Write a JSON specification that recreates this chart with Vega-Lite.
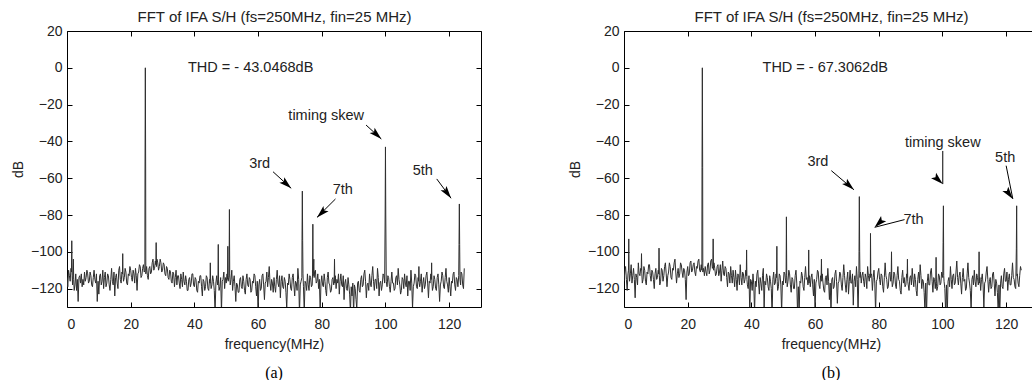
{
  "$schema": "https://vega.github.io/schema/vega-lite/v6.json",
  "background": "white",
  "padding": {"left": 10, "top": 9, "right": 0, "bottom": 0},
  "spacing": 143,
  "bounds": "flush",
  "config": {
    "view": {"stroke": "black", "strokeWidth": 1},
    "font": "Liberation Sans",
    "axis": {"domain": false, "grid": false, "ticks": true, "tickSize": -5, "tickColor": "black", "tickWidth": 1,
      "labelFont": "Liberation Sans", "labelFontSize": 14, "labelColor": "#222", "labelPadding": 10,
      "titleFont": "Liberation Sans", "titleFontSize": 14, "titleFontWeight": "normal", "titleColor": "#222"},
    "axisLeft": {"titlePadding": 5},
    "axisBottom": {"titlePadding": 6, "labelPadding": 15},
    "axisTop": {"titlePadding": 6, "titleFontSize": 15},
    "title": {"font": "Liberation Serif", "fontSize": 16, "fontWeight": "normal", "color": "black"}
  },
  "datasets": {
    "specA": [
      {"f":0,"db":-114},{"f":0.25,"db":-119},{"f":0.5,"db":-110},{"f":0.75,"db":-113},{"f":1,"db":-116},{"f":1.25,"db":-109},{"f":1.4,"db":-111},{"f":1.5,"db":-94},{"f":1.6,"db":-113},{"f":1.75,"db":-118},
      {"f":2,"db":-104},{"f":2.1,"db":-115},{"f":2.25,"db":-121},{"f":2.5,"db":-118},{"f":2.75,"db":-112},{"f":3,"db":-121},{"f":3.25,"db":-115},{"f":3.5,"db":-127},{"f":3.75,"db":-114},{"f":4,"db":-113},{"f":4.25,"db":-117},{"f":4.5,"db":-112},{"f":4.75,"db":-119},
      {"f":5,"db":-115},{"f":5.25,"db":-118},{"f":5.5,"db":-111},{"f":5.75,"db":-116},{"f":6,"db":-114},{"f":6.25,"db":-110},{"f":6.5,"db":-112},{"f":6.75,"db":-117},{"f":7,"db":-116},{"f":7.25,"db":-111},{"f":7.5,"db":-113},{"f":7.75,"db":-118},
      {"f":8,"db":-119},{"f":8.25,"db":-114},{"f":8.5,"db":-110},{"f":8.75,"db":-115},{"f":9,"db":-117},{"f":9.25,"db":-112},{"f":9.5,"db":-127},{"f":9.75,"db":-116},
      {"f":10,"db":-123},{"f":10.25,"db":-113},{"f":10.5,"db":-112},{"f":10.75,"db":-118},{"f":11,"db":-116},{"f":11.25,"db":-110},{"f":11.5,"db":-120},{"f":11.75,"db":-114},{"f":12,"db":-111},{"f":12.25,"db":-119},{"f":12.5,"db":-117},{"f":12.75,"db":-112},
      {"f":13,"db":-113},{"f":13.25,"db":-118},{"f":13.5,"db":-121},{"f":13.75,"db":-115},{"f":14,"db":-109},{"f":14.25,"db":-116},{"f":14.5,"db":-118},{"f":14.75,"db":-111},
      {"f":15,"db":-124},{"f":15.25,"db":-114},{"f":15.5,"db":-112},{"f":15.75,"db":-117},{"f":16,"db":-120},{"f":16.25,"db":-110},{"f":16.5,"db":-108},{"f":16.75,"db":-115},{"f":17,"db":-117},{"f":17.25,"db":-111},{"f":17.4,"db":-112},{"f":17.5,"db":-101},{"f":17.6,"db":-113},{"f":17.75,"db":-116},
      {"f":18,"db":-114},{"f":18.25,"db":-109},{"f":18.5,"db":-111},{"f":18.75,"db":-117},{"f":19,"db":-118},{"f":19.25,"db":-112},{"f":19.5,"db":-113},{"f":19.75,"db":-108},
      {"f":20,"db":-110},{"f":20.25,"db":-114},{"f":20.5,"db":-116},{"f":20.75,"db":-110},{"f":21,"db":-112},{"f":21.25,"db":-117},{"f":21.5,"db":-109},{"f":21.75,"db":-113},{"f":22,"db":-121},{"f":22.25,"db":-112},{"f":22.5,"db":-111},{"f":22.75,"db":-107},
      {"f":23,"db":-108},{"f":23.25,"db":-114},{"f":23.5,"db":-113},{"f":23.75,"db":-109},{"f":24,"db":-107},{"f":24.25,"db":-111},{"f":24.45,"db":-110},{"f":24.5,"db":-55},{"f":24.6,"db":0},{"f":24.7,"db":-55},{"f":24.75,"db":-112},
      {"f":25,"db":-108},{"f":25.25,"db":-113},{"f":25.5,"db":-115},{"f":25.75,"db":-109},{"f":26,"db":-108},{"f":26.25,"db":-112},{"f":26.5,"db":-111},{"f":26.75,"db":-106},{"f":27,"db":-104},{"f":27.25,"db":-110},{"f":27.5,"db":-109},{"f":27.75,"db":-105},
      {"f":27.9,"db":-107},{"f":28,"db":-95},{"f":28.1,"db":-108},{"f":28.25,"db":-104},{"f":28.5,"db":-106},{"f":28.75,"db":-110},{"f":29,"db":-108},{"f":29.25,"db":-104},{"f":29.5,"db":-106},{"f":29.75,"db":-111},
      {"f":30,"db":-110},{"f":30.25,"db":-106},{"f":30.5,"db":-107},{"f":30.75,"db":-112},{"f":31,"db":-113},{"f":31.25,"db":-108},{"f":31.5,"db":-109},{"f":31.75,"db":-114},{"f":32,"db":-115},{"f":32.25,"db":-110},{"f":32.5,"db":-111},{"f":32.75,"db":-116},
      {"f":33,"db":-117},{"f":33.25,"db":-111},{"f":33.5,"db":-112},{"f":33.75,"db":-119},{"f":34,"db":-114},{"f":34.25,"db":-110},{"f":34.5,"db":-118},{"f":34.75,"db":-113},
      {"f":35,"db":-113},{"f":35.25,"db":-117},{"f":35.5,"db":-120},{"f":35.75,"db":-112},{"f":36,"db":-115},{"f":36.25,"db":-119},{"f":36.5,"db":-111},{"f":36.75,"db":-116},{"f":37,"db":-118},{"f":37.25,"db":-113},{"f":37.5,"db":-116},{"f":37.75,"db":-121},
      {"f":38,"db":-121},{"f":38.25,"db":-115},{"f":38.5,"db":-114},{"f":38.75,"db":-119},{"f":39,"db":-117},{"f":39.25,"db":-112},{"f":39.5,"db":-112},{"f":39.75,"db":-118},
      {"f":40,"db":-119},{"f":40.25,"db":-114},{"f":40.5,"db":-115},{"f":40.75,"db":-121},{"f":41,"db":-122},{"f":41.25,"db":-116},{"f":41.5,"db":-117},{"f":41.75,"db":-113},{"f":42,"db":-113},{"f":42.25,"db":-119},{"f":42.5,"db":-124},{"f":42.75,"db":-115},
      {"f":43,"db":-116},{"f":43.25,"db":-121},{"f":43.5,"db":-119},{"f":43.75,"db":-113},{"f":44,"db":-114},{"f":44.25,"db":-120},{"f":44.5,"db":-121},{"f":44.75,"db":-115},
      {"f":44.9,"db":-117},{"f":45,"db":-106},{"f":45.1,"db":-116},{"f":45.25,"db":-120},{"f":45.5,"db":-118},{"f":45.75,"db":-113},{"f":46,"db":-116},{"f":46.25,"db":-121},{"f":46.5,"db":-133},{"f":46.75,"db":-117},{"f":47,"db":-113},{"f":47.25,"db":-118},
      {"f":47.4,"db":-115},{"f":47.5,"db":-96},{"f":47.6,"db":-117},{"f":47.75,"db":-121},{"f":48,"db":-119},{"f":48.25,"db":-114},{"f":48.5,"db":-133},{"f":48.75,"db":-116},{"f":49,"db":-115},{"f":49.25,"db":-111},{"f":49.5,"db":-120},{"f":49.75,"db":-114},
      {"f":50,"db":-117},{"f":50.25,"db":-112},{"f":50.4,"db":-115},{"f":50.5,"db":-97},{"f":50.6,"db":-116},{"f":50.8,"db":-114},{"f":50.9,"db":-113},{"f":51,"db":-77},{"f":51.1,"db":-112},{"f":51.25,"db":-118},{"f":51.5,"db":-115},{"f":51.75,"db":-110},
      {"f":52,"db":-121},{"f":52.25,"db":-116},{"f":52.5,"db":-113},{"f":52.75,"db":-119},{"f":53,"db":-127},{"f":53.25,"db":-117},{"f":53.5,"db":-118},{"f":53.75,"db":-122},{"f":54,"db":-122},{"f":54.25,"db":-115},{"f":54.5,"db":-114},{"f":54.75,"db":-119},
      {"f":55,"db":-120},{"f":55.25,"db":-113},{"f":55.5,"db":-116},{"f":55.75,"db":-121},{"f":56,"db":-123},{"f":56.25,"db":-115},{"f":56.5,"db":-112},{"f":56.75,"db":-118},{"f":57,"db":-119},{"f":57.25,"db":-114},{"f":57.5,"db":-115},{"f":57.75,"db":-122},
      {"f":58,"db":-121},{"f":58.25,"db":-116},{"f":58.5,"db":-117},{"f":58.75,"db":-112},{"f":59,"db":-113},{"f":59.25,"db":-119},{"f":59.5,"db":-124},{"f":59.75,"db":-116},
      {"f":60,"db":-134},{"f":60.25,"db":-118},{"f":60.5,"db":-115},{"f":60.75,"db":-121},{"f":61,"db":-120},{"f":61.25,"db":-113},{"f":61.5,"db":-112},{"f":61.75,"db":-118},{"f":62,"db":-126},{"f":62.25,"db":-117},{"f":62.5,"db":-116},{"f":62.75,"db":-111},
      {"f":63,"db":-119},{"f":63.25,"db":-114},{"f":63.5,"db":-108},{"f":63.75,"db":-117},{"f":64,"db":-121},{"f":64.25,"db":-115},{"f":64.5,"db":-117},{"f":64.75,"db":-122},
      {"f":65,"db":-114},{"f":65.25,"db":-119},{"f":65.5,"db":-122},{"f":65.75,"db":-115},{"f":66,"db":-110},{"f":66.25,"db":-117},{"f":66.5,"db":-119},{"f":66.75,"db":-113},{"f":67,"db":-125},{"f":67.25,"db":-116},{"f":67.5,"db":-113},{"f":67.75,"db":-119},
      {"f":68,"db":-120},{"f":68.25,"db":-114},{"f":68.5,"db":-116},{"f":68.75,"db":-122},{"f":69,"db":-131},{"f":69.25,"db":-117},{"f":69.5,"db":-118},{"f":69.75,"db":-112},
      {"f":70,"db":-115},{"f":70.25,"db":-120},{"f":70.5,"db":-121},{"f":70.75,"db":-114},{"f":71,"db":-112},{"f":71.25,"db":-118},{"f":71.5,"db":-124},{"f":71.75,"db":-116},{"f":72,"db":-117},{"f":72.25,"db":-121},{"f":72.5,"db":-109},{"f":72.75,"db":-115},
      {"f":73,"db":-134},{"f":73.25,"db":-118},{"f":73.5,"db":-116},{"f":73.75,"db":-114},{"f":73.8,"db":-93},{"f":73.9,"db":-67},{"f":74,"db":-94},{"f":74.1,"db":-112},{"f":74.25,"db":-119},{"f":74.5,"db":-133},{"f":74.75,"db":-116},
      {"f":75,"db":-117},{"f":75.25,"db":-121},{"f":75.5,"db":-112},{"f":75.75,"db":-118},{"f":76,"db":-121},{"f":76.25,"db":-113},{"f":76.5,"db":-114},{"f":76.75,"db":-119},{"f":77,"db":-118},{"f":77.1,"db":-112},{"f":77.2,"db":-85},{"f":77.3,"db":-113},{"f":77.5,"db":-104},{"f":77.6,"db":-114},{"f":77.75,"db":-111},
      {"f":78,"db":-110},{"f":78.25,"db":-117},{"f":78.5,"db":-116},{"f":78.75,"db":-112},{"f":79,"db":-120},{"f":79.25,"db":-115},{"f":79.5,"db":-133},{"f":79.75,"db":-117},
      {"f":80,"db":-113},{"f":80.25,"db":-118},{"f":80.5,"db":-119},{"f":80.75,"db":-112},{"f":81,"db":-116},{"f":81.25,"db":-121},{"f":81.5,"db":-124},{"f":81.75,"db":-114},{"f":82,"db":-111},{"f":82.25,"db":-117},{"f":82.5,"db":-118},{"f":82.75,"db":-122},
      {"f":83,"db":-121},{"f":83.25,"db":-115},{"f":83.5,"db":-114},{"f":83.75,"db":-118},{"f":83.9,"db":-116},{"f":84,"db":-104},{"f":84.1,"db":-117},{"f":84.25,"db":-113},{"f":84.5,"db":-120},{"f":84.75,"db":-115},
      {"f":85,"db":-117},{"f":85.25,"db":-112},{"f":85.5,"db":-123},{"f":85.75,"db":-116},{"f":86,"db":-112},{"f":86.25,"db":-118},{"f":86.5,"db":-119},{"f":86.75,"db":-113},{"f":87,"db":-126},{"f":87.25,"db":-117},{"f":87.5,"db":-115},{"f":87.75,"db":-120},
      {"f":88,"db":-121},{"f":88.25,"db":-114},{"f":88.5,"db":-118},{"f":88.75,"db":-123},{"f":89,"db":-133},{"f":89.25,"db":-119},{"f":89.5,"db":-124},{"f":89.75,"db":-117},
      {"f":90,"db":-134},{"f":90.25,"db":-118},{"f":90.5,"db":-120},{"f":90.75,"db":-126},{"f":91,"db":-131},{"f":91.25,"db":-117},{"f":91.5,"db":-116},{"f":91.75,"db":-121},{"f":92,"db":-122},{"f":92.25,"db":-115},{"f":92.5,"db":-113},{"f":92.75,"db":-119},
      {"f":93,"db":-118},{"f":93.25,"db":-112},{"f":93.5,"db":-110},{"f":93.75,"db":-116},{"f":94,"db":-125},{"f":94.25,"db":-118},{"f":94.5,"db":-117},{"f":94.75,"db":-121},
      {"f":95,"db":-112},{"f":95.25,"db":-117},{"f":95.5,"db":-119},{"f":95.75,"db":-113},{"f":96,"db":-108},{"f":96.25,"db":-116},{"f":96.5,"db":-121},{"f":96.75,"db":-115},{"f":97,"db":-115},{"f":97.25,"db":-120},{"f":97.5,"db":-109},{"f":97.75,"db":-114},
      {"f":98,"db":-124},{"f":98.25,"db":-117},{"f":98.5,"db":-116},{"f":98.75,"db":-121},{"f":99,"db":-118},{"f":99.25,"db":-112},{"f":99.5,"db":-113},{"f":99.75,"db":-117},
      {"f":99.9,"db":-80},{"f":100,"db":-43},{"f":100.1,"db":-80},{"f":100.25,"db":-116},{"f":100.5,"db":-119},{"f":100.75,"db":-113},{"f":101,"db":-114},{"f":101.25,"db":-119},{"f":101.5,"db":-122},{"f":101.75,"db":-116},
      {"f":102,"db":-111},{"f":102.25,"db":-117},{"f":102.5,"db":-117},{"f":102.75,"db":-121},{"f":103,"db":-120},{"f":103.25,"db":-114},{"f":103.5,"db":-113},{"f":103.75,"db":-118},{"f":104,"db":-109},{"f":104.25,"db":-115},{"f":104.5,"db":-118},{"f":104.75,"db":-123},
      {"f":105,"db":-121},{"f":105.25,"db":-114},{"f":105.5,"db":-115},{"f":105.75,"db":-120},{"f":106,"db":-112},{"f":106.25,"db":-117},{"f":106.5,"db":-119},{"f":106.75,"db":-113},{"f":107,"db":-124},{"f":107.25,"db":-116},{"f":107.5,"db":-116},{"f":107.75,"db":-121},
      {"f":108,"db":-110},{"f":108.25,"db":-117},{"f":108.5,"db":-131},{"f":108.75,"db":-119},{"f":109,"db":-117},{"f":109.25,"db":-112},{"f":109.5,"db":-113},{"f":109.75,"db":-119},
      {"f":110,"db":-120},{"f":110.25,"db":-114},{"f":110.4,"db":-116},{"f":110.5,"db":-108},{"f":110.6,"db":-117},{"f":110.75,"db":-119},{"f":111,"db":-116},{"f":111.25,"db":-112},{"f":111.5,"db":-122},{"f":111.75,"db":-117},
      {"f":112,"db":-114},{"f":112.25,"db":-120},{"f":112.5,"db":-118},{"f":112.75,"db":-113},{"f":113,"db":-111},{"f":113.25,"db":-117},{"f":113.5,"db":-125},{"f":113.75,"db":-116},{"f":114,"db":-117},{"f":114.25,"db":-112},{"f":114.4,"db":-115},{"f":114.5,"db":-106},{"f":114.6,"db":-117},{"f":114.75,"db":-121},
      {"f":115,"db":-119},{"f":115.25,"db":-113},{"f":115.5,"db":-115},{"f":115.75,"db":-120},{"f":116,"db":-121},{"f":116.25,"db":-114},{"f":116.5,"db":-112},{"f":116.75,"db":-118},{"f":117,"db":-127},{"f":117.25,"db":-118},{"f":117.5,"db":-116},{"f":117.75,"db":-111},
      {"f":118,"db":-113},{"f":118.25,"db":-119},{"f":118.5,"db":-120},{"f":118.75,"db":-114},{"f":119,"db":-109},{"f":119.25,"db":-116},{"f":119.5,"db":-118},{"f":119.75,"db":-122},
      {"f":120,"db":-114},{"f":120.25,"db":-119},{"f":120.5,"db":-124},{"f":120.75,"db":-116},{"f":121,"db":-117},{"f":121.25,"db":-112},{"f":121.5,"db":-111},{"f":121.75,"db":-118},{"f":122,"db":-121},{"f":122.25,"db":-114},{"f":122.5,"db":-115},{"f":122.75,"db":-119},
      {"f":123,"db":-113},{"f":123.1,"db":-96},{"f":123.2,"db":-74},{"f":123.3,"db":-96},{"f":123.4,"db":-115},{"f":123.6,"db":-118},{"f":123.75,"db":-111},{"f":124,"db":-112},{"f":124.25,"db":-118},{"f":124.5,"db":-120},{"f":124.75,"db":-109}
    ],
    "specB": [
      {"f":0,"db":-116},{"f":0.25,"db":-111},{"f":0.5,"db":-108},{"f":0.75,"db":-115},{"f":1,"db":-121},{"f":1.25,"db":-112},{"f":1.4,"db":-110},{"f":1.5,"db":-93},{"f":1.6,"db":-111},{"f":1.75,"db":-116},
      {"f":2,"db":-112},{"f":2.25,"db":-107},{"f":2.5,"db":-117},{"f":2.75,"db":-113},{"f":3,"db":-109},{"f":3.25,"db":-115},{"f":3.5,"db":-125},{"f":3.75,"db":-112},{"f":4,"db":-114},{"f":4.25,"db":-118},{"f":4.5,"db":-106},{"f":4.75,"db":-112},
      {"f":5,"db":-113},{"f":5.25,"db":-109},{"f":5.4,"db":-110},{"f":5.5,"db":-101},{"f":5.6,"db":-112},{"f":5.75,"db":-117},{"f":6,"db":-115},{"f":6.25,"db":-108},{"f":6.5,"db":-110},{"f":6.75,"db":-116},{"f":7,"db":-118},{"f":7.25,"db":-111},{"f":7.5,"db":-112},{"f":7.75,"db":-107},
      {"f":8,"db":-107},{"f":8.25,"db":-113},{"f":8.5,"db":-116},{"f":8.75,"db":-110},{"f":9,"db":-111},{"f":9.25,"db":-115},{"f":9.5,"db":-120},{"f":9.75,"db":-112},
      {"f":10,"db":-109},{"f":10.25,"db":-115},{"f":10.5,"db":-114},{"f":10.75,"db":-110},{"f":10.9,"db":-112},{"f":11,"db":-98},{"f":11.1,"db":-113},{"f":11.25,"db":-118},{"f":11.5,"db":-116},{"f":11.75,"db":-109},
      {"f":12,"db":-110},{"f":12.25,"db":-116},{"f":12.5,"db":-113},{"f":12.75,"db":-108},{"f":13,"db":-106},{"f":13.25,"db":-112},{"f":13.5,"db":-119},{"f":13.75,"db":-113},{"f":14,"db":-111},{"f":14.25,"db":-106},{"f":14.5,"db":-108},{"f":14.75,"db":-114},
      {"f":15,"db":-115},{"f":15.25,"db":-109},{"f":15.5,"db":-110},{"f":15.75,"db":-106},{"f":16,"db":-104},{"f":16.25,"db":-111},{"f":16.5,"db":-117},{"f":16.75,"db":-112},{"f":17,"db":-109},{"f":17.25,"db":-114},{"f":17.5,"db":-112},{"f":17.75,"db":-106},
      {"f":18,"db":-107},{"f":18.25,"db":-111},{"f":18.5,"db":-114},{"f":18.75,"db":-109},{"f":19,"db":-110},{"f":19.25,"db":-115},{"f":19.5,"db":-126},{"f":19.75,"db":-111},
      {"f":20,"db":-108},{"f":20.25,"db":-113},{"f":20.5,"db":-112},{"f":20.75,"db":-106},{"f":21,"db":-105},{"f":21.25,"db":-111},{"f":21.5,"db":-110},{"f":21.75,"db":-107},{"f":22,"db":-106},{"f":22.25,"db":-111},{"f":22.5,"db":-113},{"f":22.75,"db":-108},
      {"f":23,"db":-109},{"f":23.25,"db":-105},{"f":23.5,"db":-104},{"f":23.75,"db":-110},{"f":24,"db":-111},{"f":24.25,"db":-107},{"f":24.45,"db":-110},{"f":24.5,"db":-54},{"f":24.6,"db":0},{"f":24.7,"db":-54},{"f":24.75,"db":-111},
      {"f":25,"db":-109},{"f":25.25,"db":-113},{"f":25.5,"db":-108},{"f":25.75,"db":-111},{"f":26,"db":-113},{"f":26.25,"db":-107},{"f":26.5,"db":-106},{"f":26.75,"db":-112},{"f":27,"db":-110},{"f":27.25,"db":-105},{"f":27.5,"db":-104},{"f":27.75,"db":-109},
      {"f":27.9,"db":-108},{"f":28,"db":-93},{"f":28.1,"db":-110},{"f":28.25,"db":-106},{"f":28.5,"db":-109},{"f":28.75,"db":-113},{"f":29,"db":-112},{"f":29.25,"db":-108},{"f":29.5,"db":-107},{"f":29.75,"db":-113},
      {"f":30,"db":-111},{"f":30.25,"db":-107},{"f":30.5,"db":-116},{"f":30.75,"db":-110},{"f":31,"db":-105},{"f":31.25,"db":-112},{"f":31.5,"db":-113},{"f":31.75,"db":-108},{"f":32,"db":-109},{"f":32.25,"db":-114},{"f":32.5,"db":-119},{"f":32.75,"db":-111},
      {"f":33,"db":-112},{"f":33.25,"db":-117},{"f":33.5,"db":-108},{"f":33.75,"db":-113},{"f":34,"db":-117},{"f":34.25,"db":-110},{"f":34.5,"db":-114},{"f":34.75,"db":-119},
      {"f":35,"db":-110},{"f":35.25,"db":-115},{"f":35.5,"db":-121},{"f":35.75,"db":-112},{"f":36,"db":-113},{"f":36.25,"db":-118},{"f":36.5,"db":-107},{"f":36.75,"db":-114},{"f":37,"db":-118},{"f":37.25,"db":-111},{"f":37.5,"db":-112},{"f":37.75,"db":-117},
      {"f":38,"db":-115},{"f":38.25,"db":-110},{"f":38.4,"db":-113},{"f":38.5,"db":-99},{"f":38.6,"db":-115},{"f":38.75,"db":-118},{"f":39,"db":-120},{"f":39.25,"db":-113},{"f":39.5,"db":-134},{"f":39.75,"db":-115},
      {"f":40,"db":-116},{"f":40.25,"db":-121},{"f":40.5,"db":-112},{"f":40.75,"db":-118},{"f":41,"db":-133},{"f":41.25,"db":-116},{"f":41.5,"db":-119},{"f":41.75,"db":-112},{"f":42,"db":-110},{"f":42.25,"db":-117},{"f":42.5,"db":-123},{"f":42.75,"db":-114},
      {"f":43,"db":-117},{"f":43.25,"db":-121},{"f":43.5,"db":-113},{"f":43.75,"db":-109},{"f":44,"db":-131},{"f":44.25,"db":-116},{"f":44.5,"db":-118},{"f":44.75,"db":-112},
      {"f":45,"db":-114},{"f":45.25,"db":-119},{"f":45.5,"db":-121},{"f":45.75,"db":-113},{"f":46,"db":-116},{"f":46.25,"db":-120},{"f":46.5,"db":-135},{"f":46.75,"db":-115},{"f":47,"db":-111},{"f":47.25,"db":-118},{"f":47.5,"db":-117},{"f":47.75,"db":-112},
      {"f":47.9,"db":-114},{"f":48,"db":-97},{"f":48.1,"db":-116},{"f":48.25,"db":-121},{"f":48.5,"db":-119},{"f":48.75,"db":-112},{"f":49,"db":-113},{"f":49.25,"db":-118},{"f":49.5,"db":-133},{"f":49.75,"db":-116},
      {"f":50,"db":-118},{"f":50.25,"db":-111},{"f":50.5,"db":-112},{"f":50.75,"db":-117},{"f":50.9,"db":-114},{"f":51,"db":-81},{"f":51.1,"db":-113},{"f":51.25,"db":-119},{"f":51.5,"db":-116},{"f":51.75,"db":-110},
      {"f":52,"db":-112},{"f":52.25,"db":-118},{"f":52.5,"db":-122},{"f":52.75,"db":-114},{"f":53,"db":-115},{"f":53.25,"db":-120},{"f":53.5,"db":-120},{"f":53.75,"db":-113},{"f":54,"db":-110},{"f":54.25,"db":-117},{"f":54.5,"db":-134},{"f":54.75,"db":-119},
      {"f":55,"db":-133},{"f":55.25,"db":-116},{"f":55.5,"db":-117},{"f":55.75,"db":-111},{"f":56,"db":-113},{"f":56.25,"db":-119},{"f":56.5,"db":-121},{"f":56.75,"db":-114},{"f":57,"db":-108},{"f":57.25,"db":-115},{"f":57.5,"db":-114},{"f":57.75,"db":-118},
      {"f":57.9,"db":-116},{"f":58,"db":-99},{"f":58.1,"db":-117},{"f":58.25,"db":-113},{"f":58.5,"db":-119},{"f":58.75,"db":-114},{"f":59,"db":-112},{"f":59.25,"db":-118},{"f":59.5,"db":-124},{"f":59.75,"db":-115},
      {"f":60,"db":-132},{"f":60.25,"db":-117},{"f":60.5,"db":-115},{"f":60.75,"db":-110},{"f":61,"db":-111},{"f":61.25,"db":-118},{"f":61.5,"db":-120},{"f":61.75,"db":-113},{"f":61.9,"db":-114},{"f":62,"db":-104},{"f":62.1,"db":-116},{"f":62.25,"db":-112},{"f":62.5,"db":-117},{"f":62.75,"db":-121},
      {"f":63,"db":-122},{"f":63.25,"db":-114},{"f":63.5,"db":-113},{"f":63.75,"db":-118},{"f":64,"db":-109},{"f":64.25,"db":-116},{"f":64.5,"db":-126},{"f":64.75,"db":-117},
      {"f":65,"db":-133},{"f":65.25,"db":-115},{"f":65.5,"db":-114},{"f":65.75,"db":-120},{"f":66,"db":-119},{"f":66.25,"db":-112},{"f":66.5,"db":-110},{"f":66.75,"db":-116},{"f":67,"db":-128},{"f":67.25,"db":-117},{"f":67.5,"db":-116},{"f":67.75,"db":-111},
      {"f":68,"db":-112},{"f":68.25,"db":-118},{"f":68.5,"db":-121},{"f":68.75,"db":-114},{"f":69,"db":-107},{"f":69.25,"db":-113},{"f":69.5,"db":-118},{"f":69.75,"db":-122},
      {"f":70,"db":-115},{"f":70.25,"db":-111},{"f":70.5,"db":-123},{"f":70.75,"db":-116},{"f":71,"db":-110},{"f":71.25,"db":-117},{"f":71.5,"db":-117},{"f":71.75,"db":-112},{"f":72,"db":-129},{"f":72.25,"db":-116},{"f":72.5,"db":-113},{"f":72.75,"db":-119},
      {"f":73,"db":-108},{"f":73.25,"db":-115},{"f":73.5,"db":-134},{"f":73.75,"db":-112},{"f":73.8,"db":-100},{"f":73.9,"db":-70},{"f":74,"db":-100},{"f":74.1,"db":-114},{"f":74.25,"db":-111},{"f":74.5,"db":-117},{"f":74.75,"db":-113},
      {"f":75,"db":-111},{"f":75.25,"db":-116},{"f":75.5,"db":-119},{"f":75.75,"db":-112},{"f":76,"db":-114},{"f":76.25,"db":-120},{"f":76.5,"db":-108},{"f":76.75,"db":-113},{"f":77,"db":-116},{"f":77.25,"db":-112},{"f":77.35,"db":-114},{"f":77.4,"db":-90},{"f":77.5,"db":-113},{"f":77.75,"db":-112},
      {"f":78,"db":-121},{"f":78.25,"db":-114},{"f":78.5,"db":-110},{"f":78.75,"db":-117},{"f":79,"db":-133},{"f":79.25,"db":-116},{"f":79.5,"db":-115},{"f":79.75,"db":-111},
      {"f":80,"db":-109},{"f":80.25,"db":-115},{"f":80.5,"db":-118},{"f":80.75,"db":-112},{"f":81,"db":-113},{"f":81.25,"db":-119},{"f":81.5,"db":-122},{"f":81.75,"db":-114},{"f":82,"db":-106},{"f":82.25,"db":-113},{"f":82.5,"db":-115},{"f":82.75,"db":-120},
      {"f":83,"db":-119},{"f":83.25,"db":-112},{"f":83.5,"db":-111},{"f":83.75,"db":-116},{"f":83.9,"db":-114},{"f":84,"db":-100},{"f":84.1,"db":-115},{"f":84.25,"db":-119},{"f":84.5,"db":-117},{"f":84.75,"db":-111},
      {"f":85,"db":-112},{"f":85.25,"db":-118},{"f":85.5,"db":-120},{"f":85.75,"db":-113},{"f":86,"db":-108},{"f":86.25,"db":-115},{"f":86.5,"db":-116},{"f":86.75,"db":-121},{"f":87,"db":-123},{"f":87.25,"db":-114},{"f":87.5,"db":-110},{"f":87.75,"db":-117},
      {"f":88,"db":-114},{"f":88.25,"db":-119},{"f":88.5,"db":-118},{"f":88.75,"db":-112},{"f":88.9,"db":-114},{"f":89,"db":-104},{"f":89.1,"db":-116},{"f":89.25,"db":-118},{"f":89.5,"db":-121},{"f":89.75,"db":-114},
      {"f":90,"db":-113},{"f":90.25,"db":-118},{"f":90.5,"db":-109},{"f":90.75,"db":-115},{"f":91,"db":-119},{"f":91.25,"db":-112},{"f":91.5,"db":-115},{"f":91.75,"db":-121},{"f":92,"db":-124},{"f":92.25,"db":-115},{"f":92.5,"db":-111},{"f":92.75,"db":-117},
      {"f":93,"db":-107},{"f":93.25,"db":-113},{"f":93.5,"db":-120},{"f":93.75,"db":-115},{"f":94,"db":-116},{"f":94.25,"db":-122},{"f":94.5,"db":-133},{"f":94.75,"db":-117},
      {"f":95,"db":-134},{"f":95.25,"db":-116},{"f":95.5,"db":-112},{"f":95.75,"db":-118},{"f":96,"db":-118},{"f":96.25,"db":-111},{"f":96.5,"db":-109},{"f":96.75,"db":-116},{"f":97,"db":-122},{"f":97.25,"db":-114},{"f":97.5,"db":-115},{"f":97.75,"db":-120},
      {"f":97.9,"db":-116},{"f":98,"db":-103},{"f":98.1,"db":-117},{"f":98.25,"db":-121},{"f":98.5,"db":-119},{"f":98.75,"db":-112},{"f":99,"db":-113},{"f":99.25,"db":-118},{"f":99.5,"db":-117},{"f":99.75,"db":-111},
      {"f":100.1,"db":-114},{"f":100.2,"db":-95},{"f":100.3,"db":-75},{"f":100.4,"db":-113},{"f":100.5,"db":-116},{"f":100.75,"db":-120},{"f":101,"db":-133},{"f":101.25,"db":-118},{"f":101.5,"db":-135},{"f":101.75,"db":-116},
      {"f":102,"db":-114},{"f":102.25,"db":-119},{"f":102.5,"db":-108},{"f":102.75,"db":-115},{"f":103,"db":-120},{"f":103.25,"db":-113},{"f":103.5,"db":-112},{"f":103.75,"db":-118},{"f":104,"db":-117},{"f":104.25,"db":-111},{"f":104.5,"db":-105},{"f":104.75,"db":-114},
      {"f":105,"db":-118},{"f":105.25,"db":-113},{"f":105.5,"db":-111},{"f":105.75,"db":-117},{"f":106,"db":-123},{"f":106.25,"db":-114},{"f":106.5,"db":-109},{"f":106.75,"db":-116},{"f":107,"db":-115},{"f":107.25,"db":-121},{"f":107.5,"db":-120},{"f":107.75,"db":-112},
      {"f":108,"db":-106},{"f":108.25,"db":-114},{"f":108.5,"db":-117},{"f":108.75,"db":-121},{"f":109,"db":-132},{"f":109.25,"db":-115},{"f":109.5,"db":-113},{"f":109.75,"db":-118},
      {"f":110,"db":-110},{"f":110.25,"db":-116},{"f":110.5,"db":-119},{"f":110.75,"db":-112},{"f":111,"db":-114},{"f":111.25,"db":-118},{"f":111.4,"db":-116},{"f":111.5,"db":-100},{"f":111.6,"db":-117},{"f":111.75,"db":-114},
      {"f":112,"db":-121},{"f":112.25,"db":-115},{"f":112.5,"db":-112},{"f":112.75,"db":-118},{"f":113,"db":-130},{"f":113.25,"db":-117},{"f":113.5,"db":-116},{"f":113.75,"db":-111},{"f":114,"db":-108},{"f":114.25,"db":-115},{"f":114.5,"db":-122},{"f":114.75,"db":-116},
      {"f":115,"db":-114},{"f":115.25,"db":-120},{"f":115.5,"db":-119},{"f":115.75,"db":-112},{"f":116,"db":-111},{"f":116.25,"db":-117},{"f":116.5,"db":-124},{"f":116.75,"db":-115},{"f":117,"db":-117},{"f":117.25,"db":-122},{"f":117.5,"db":-133},{"f":117.75,"db":-118},
      {"f":118,"db":-134},{"f":118.25,"db":-117},{"f":118.5,"db":-113},{"f":118.75,"db":-119},{"f":119,"db":-120},{"f":119.25,"db":-112},{"f":119.5,"db":-109},{"f":119.75,"db":-116},
      {"f":120,"db":-116},{"f":120.25,"db":-111},{"f":120.5,"db":-121},{"f":120.75,"db":-115},{"f":121,"db":-112},{"f":121.25,"db":-118},{"f":121.5,"db":-118},{"f":121.75,"db":-113},{"f":122,"db":-106},{"f":122.25,"db":-114},{"f":122.5,"db":-115},{"f":122.75,"db":-119},
      {"f":123,"db":-120},{"f":123.2,"db":-98},{"f":123.3,"db":-75},{"f":123.4,"db":-113},{"f":123.5,"db":-112},{"f":123.75,"db":-117},{"f":124,"db":-119},{"f":124.25,"db":-113},{"f":124.5,"db":-108},{"f":124.75,"db":-110}
    ],
    "arrowsA": [
      {"id":"a_ts","x":93.9,"y":-31.1,"x2":98.7,"y2":-38.7},
      {"id":"a_3","x":64.7,"y":-56.5,"x2":70.4,"y2":-65.5},
      {"id":"a_7","x":84.3,"y":-71.3,"x2":78.5,"y2":-81.3},
      {"id":"a_5","x":116.1,"y":-60.4,"x2":120.6,"y2":-70.9}
    ],
    "arrowsB": [
      {"id":"b_ts","x":100.1,"y":-45.2,"x2":100.1,"y2":-63.2},
      {"id":"b_3","x":65.1,"y":-55.9,"x2":72.2,"y2":-66.3},
      {"id":"b_7","x":88.1,"y":-82.5,"x2":78.7,"y2":-86.7},
      {"id":"b_5","x":120,"y":-53.2,"x2":122.1,"y2":-71.3}
    ],
    "labelsA": [
      {"x":81.4,"y":-26.0,"label":"timing skew"},
      {"x":60.5,"y":-52.3,"label":"3rd"},
      {"x":86.6,"y":-66.2,"label":"7th"},
      {"x":111.7,"y":-55.9,"label":"5th"}
    ],
    "labelsB": [
      {"x":100.1,"y":-40.9,"label":"timing skew"},
      {"x":60.9,"y":-51.4,"label":"3rd"},
      {"x":90.9,"y":-82.5,"label":"7th"},
      {"x":119.7,"y":-49.2,"label":"5th"}
    ],
    "thdA": [{"x":38.0,"y":0,"label":"THD = - 43.0468dB"}],
    "thdB": [{"x":43.5,"y":0,"label":"THD = - 67.3062dB"}]
  },
  "hconcat": [
    {
      "width": 414, "height": 276,
      "title": {"text": "(a)", "orient": "bottom", "anchor": "middle", "offset": 14},
      "resolve": {"axis": {"x": "independent", "y": "independent"}},
      "layer": [
        {
          "data": {"name": "specA"},
          "mark": {"type": "line", "clip": true, "color": "#2e2e2e", "strokeWidth": 1},
          "encoding": {
            "x": {"field": "f", "type": "quantitative", "scale": {"domain": [0, 130], "nice": false, "zero": false},
              "axis": {"orient": "bottom", "title": "frequency(MHz)", "values": [0, 20, 40, 60, 80, 100, 120]}},
            "y": {"field": "db", "type": "quantitative", "scale": {"domain": [-130, 20], "nice": false, "zero": false},
              "axis": {"orient": "left", "title": "dB", "values": [-120, -100, -80, -60, -40, -20, 0, 20]}}
          }
        },
        {
          "data": {"name": "arrowsA"},
          "mark": {"type": "rule", "color": "black", "strokeWidth": 1},
          "encoding": {
            "x": {"field": "x", "type": "quantitative", "scale": {"domain": [0, 130], "nice": false, "zero": false},
              "axis": {"orient": "top", "labels": false, "title": "FFT of IFA S/H (fs=250MHz, fin=25 MHz)", "values": [0, 20, 40, 60, 80, 100, 120]}},
            "y": {"field": "y", "type": "quantitative", "scale": {"domain": [-130, 20], "nice": false, "zero": false},
              "axis": {"orient": "right", "labels": false, "title": null, "values": [-120, -100, -80, -60, -40, -20, 0, 20]}},
            "x2": {"field": "x2"},
            "y2": {"field": "y2"}
          }
        },
        {
          "data": {"name": "arrowsA"},
          "mark": {"type": "point", "filled": true, "color": "black", "opacity": 1, "size": 110, "shape": "M0,0L-0.7,2.4L0,1.9L0.7,2.4Z"},
          "encoding": {
            "x": {"field": "x2", "type": "quantitative", "axis": null},
            "y": {"field": "y2", "type": "quantitative", "axis": null},
            "angle": {"field": "id", "type": "nominal", "legend": null,
              "scale": {"type": "ordinal", "domain": ["a_ts", "a_3", "a_7", "a_5"], "range": [133, 132, 225.6, 143.3]}}
          }
        },
        {
          "data": {"name": "labelsA"},
          "mark": {"type": "text", "font": "Liberation Sans", "fontSize": 14.5, "color": "#222", "align": "center", "baseline": "middle"},
          "encoding": {
            "x": {"field": "x", "type": "quantitative", "axis": null},
            "y": {"field": "y", "type": "quantitative", "axis": null},
            "text": {"field": "label"}
          }
        },
        {
          "data": {"name": "thdA"},
          "mark": {"type": "text", "font": "Liberation Sans", "fontSize": 14.5, "color": "#222", "align": "left", "baseline": "middle"},
          "encoding": {
            "x": {"field": "x", "type": "quantitative", "axis": null},
            "y": {"field": "y", "type": "quantitative", "axis": null},
            "text": {"field": "label"}
          }
        }
      ]
    },
    {
      "width": 414, "height": 276,
      "title": {"text": "(b)", "orient": "bottom", "anchor": "middle", "offset": 14},
      "resolve": {"axis": {"x": "independent", "y": "independent"}},
      "layer": [
        {
          "data": {"name": "specB"},
          "mark": {"type": "line", "clip": true, "color": "#2e2e2e", "strokeWidth": 1},
          "encoding": {
            "x": {"field": "f", "type": "quantitative", "scale": {"domain": [0, 130], "nice": false, "zero": false},
              "axis": {"orient": "bottom", "title": "frequency(MHz)", "values": [0, 20, 40, 60, 80, 100, 120]}},
            "y": {"field": "db", "type": "quantitative", "scale": {"domain": [-130, 20], "nice": false, "zero": false},
              "axis": {"orient": "left", "title": "dB", "values": [-120, -100, -80, -60, -40, -20, 0, 20]}}
          }
        },
        {
          "data": {"name": "arrowsB"},
          "mark": {"type": "rule", "color": "black", "strokeWidth": 1},
          "encoding": {
            "x": {"field": "x", "type": "quantitative", "scale": {"domain": [0, 130], "nice": false, "zero": false},
              "axis": {"orient": "top", "labels": false, "title": "FFT of IFA S/H (fs=250MHz, fin=25 MHz)", "values": [0, 20, 40, 60, 80, 100, 120]}},
            "y": {"field": "y", "type": "quantitative", "scale": {"domain": [-130, 20], "nice": false, "zero": false},
              "axis": {"orient": "right", "labels": false, "title": null, "values": [-120, -100, -80, -60, -40, -20, 0, 20]}},
            "x2": {"field": "x2"},
            "y2": {"field": "y2"}
          }
        },
        {
          "data": {"name": "arrowsB"},
          "mark": {"type": "point", "filled": true, "color": "black", "opacity": 1, "size": 110, "shape": "M0,0L-0.7,2.4L0,1.9L0.7,2.4Z"},
          "encoding": {
            "x": {"field": "x2", "type": "quantitative", "axis": null},
            "y": {"field": "y2", "type": "quantitative", "axis": null},
            "angle": {"field": "id", "type": "nominal", "legend": null,
              "scale": {"type": "ordinal", "domain": ["b_ts", "b_3", "b_7", "b_5"], "range": [180, 130, 255.8, 168.8]}}
          }
        },
        {
          "data": {"name": "labelsB"},
          "mark": {"type": "text", "font": "Liberation Sans", "fontSize": 14.5, "color": "#222", "align": "center", "baseline": "middle"},
          "encoding": {
            "x": {"field": "x", "type": "quantitative", "axis": null},
            "y": {"field": "y", "type": "quantitative", "axis": null},
            "text": {"field": "label"}
          }
        },
        {
          "data": {"name": "thdB"},
          "mark": {"type": "text", "font": "Liberation Sans", "fontSize": 14.5, "color": "#222", "align": "left", "baseline": "middle"},
          "encoding": {
            "x": {"field": "x", "type": "quantitative", "axis": null},
            "y": {"field": "y", "type": "quantitative", "axis": null},
            "text": {"field": "label"}
          }
        }
      ]
    }
  ]
}
